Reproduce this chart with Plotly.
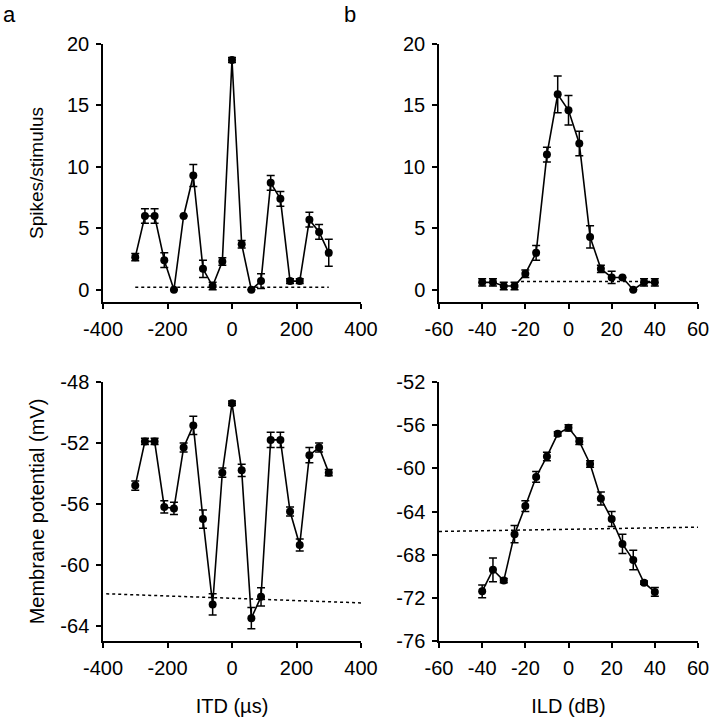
import plotly.graph_objects as go

# ITD tuning (panel a), ILD tuning (panel b)
itd = [-300, -270, -240, -210, -180, -150, -120, -90, -60, -30, 0,
       30, 60, 90, 120, 150, 180, 210, 240, 270, 300]
itd_spikes = [2.65, 6.0, 6.0, 2.4, 0.0, 6.0, 9.3, 1.7, 0.3, 2.3, 18.7,
              3.7, 0.0, 0.7, 8.7, 7.4, 0.7, 0.7, 5.7, 4.7, 3.0]
itd_spikes_err = [0.3, 0.6, 0.6, 0.6, 0.0, 0.0, 0.9, 0.7, 0.3, 0.3, 0.2,
                  0.3, 0.0, 0.6, 0.6, 0.6, 0.2, 0.2, 0.6, 0.6, 1.1]
itd_vm = [-54.8, -51.9, -51.9, -56.2, -56.3, -52.3, -50.85, -57.0, -62.6, -53.95, -49.4,
          -53.8, -63.5, -62.1, -51.8, -51.8, -56.5, -58.7, -52.8, -52.3, -53.95]
itd_vm_err = [0.3, 0.2, 0.2, 0.4, 0.4, 0.3, 0.6, 0.6, 0.7, 0.3, 0.15,
              0.4, 0.7, 0.6, 0.5, 0.5, 0.3, 0.4, 0.5, 0.3, 0.2]

ild = [-40, -35, -30, -25, -20, -15, -10, -5, 0, 5, 10, 15, 20, 25, 30, 35, 40]
ild_spikes = [0.6, 0.6, 0.3, 0.3, 1.3, 3.0, 11.0, 15.9, 14.6, 11.9, 4.3,
              1.7, 1.0, 1.0, 0.0, 0.6, 0.6]
ild_spikes_err = [0.3, 0.3, 0.3, 0.3, 0.3, 0.6, 0.6, 1.5, 1.2, 1.0, 0.9,
                  0.3, 0.5, 0.0, 0.0, 0.3, 0.3]
ild_vm = [-71.4, -69.4, -70.4, -66.1, -63.5, -60.8, -58.9, -56.8, -56.25, -57.5, -59.6,
          -62.8, -64.7, -67.0, -68.5, -70.6, -71.45]
ild_vm_err = [0.6, 1.1, 0.2, 0.8, 0.5, 0.5, 0.4, 0.2, 0.3, 0.3, 0.3,
              0.6, 0.7, 0.9, 0.9, 0.15, 0.4]

# spontaneous / resting levels (dotted lines)
itd_spont_x = [-300, 300]
itd_spont_y = [0.2, 0.2]
ild_spont_x = [-22, 40]
ild_spont_y = [0.67, 0.67]
itd_rest_x = [-390, 400]
itd_rest_y = [-61.9, -62.5]
ild_rest_x = [-60, 60]
ild_rest_y = [-65.85, -65.45]

# tick values (labels use a plain hyphen like the original)
itd_ticks = [-400, -200, 0, 200, 400]
ild_ticks = [-60, -40, -20, 0, 20, 40, 60]
spike_ticks = [0, 5, 10, 15, 20]
vm_itd_ticks = [-64, -60, -56, -52, -48]
vm_ild_ticks = [-76, -72, -68, -64, -60, -56, -52]

FONT = "Liberation Sans, Arial, sans-serif"

fig = go.Figure()


def add_curve(x, y, err, xa, ya):
    fig.add_trace(go.Scatter(
        x=x, y=y, xaxis=xa, yaxis=ya, mode="lines+markers",
        line=dict(color="black", width=1.6),
        marker=dict(color="black", size=8),
        error_y=dict(type="data", array=err, visible=True,
                     color="black", thickness=1.5, width=4),
        showlegend=False))


def add_dotted(x, y, xa, ya):
    fig.add_trace(go.Scatter(
        x=x, y=y, xaxis=xa, yaxis=ya, mode="lines",
        line=dict(color="black", width=1.5, dash="dot"),
        showlegend=False))


def ticks(vals):
    return dict(tickmode="array", tickvals=vals, ticktext=[str(v) for v in vals])


add_dotted(itd_spont_x, itd_spont_y, "x", "y")
add_curve(itd, itd_spikes, itd_spikes_err, "x", "y")
add_dotted(ild_spont_x, ild_spont_y, "x2", "y2")
add_curve(ild, ild_spikes, ild_spikes_err, "x2", "y2")
add_dotted(itd_rest_x, itd_rest_y, "x3", "y3")
add_curve(itd, itd_vm, itd_vm_err, "x3", "y3")
add_dotted(ild_rest_x, ild_rest_y, "x4", "y4")
add_curve(ild, ild_vm, ild_vm_err, "x4", "y4")

left = [103 / 711, 361 / 711]
right = [439 / 711, 698 / 711]
top = [1 - 302 / 720, 1 - 44 / 720]
bottom = [1 - 641 / 720, 1 - 382 / 720]

ax = dict(showline=True, linecolor="black", linewidth=1.5, ticks="outside",
          ticklen=5, tickwidth=1.5, tickcolor="black", showgrid=False,
          zeroline=False, automargin=False, ticklabelstandoff=3,
          tickfont=dict(size=20, color="black", family=FONT))

fig.update_layout(
    width=711, height=720, margin=dict(l=0, r=0, t=0, b=0),
    paper_bgcolor="white", plot_bgcolor="white",
    font=dict(family=FONT, color="black"),
    xaxis=dict(ax, **ticks(itd_ticks), domain=left, anchor="y", range=[-400, 400]),
    yaxis=dict(ax, **ticks(spike_ticks), domain=top, anchor="x", range=[-1, 20],
               title=dict(text="Spikes/stimulus", font=dict(size=19), standoff=18)),
    xaxis2=dict(ax, **ticks(ild_ticks), domain=right, anchor="y2", range=[-60, 60]),
    yaxis2=dict(ax, **ticks(spike_ticks), domain=top, anchor="x2", range=[-1, 20]),
    xaxis3=dict(ax, **ticks(itd_ticks), domain=left, anchor="y3", range=[-400, 400],
                title=dict(text="ITD (µs)", font=dict(size=20), standoff=21)),
    yaxis3=dict(ax, **ticks(vm_itd_ticks), domain=bottom, anchor="x3", range=[-65, -48],
                title=dict(text="Membrane potential (mV)", font=dict(size=20), standoff=10)),
    xaxis4=dict(ax, **ticks(ild_ticks), domain=right, anchor="y4", range=[-60, 60],
                title=dict(text="ILD (dB)", font=dict(size=20), standoff=21)),
    yaxis4=dict(ax, **ticks(vm_ild_ticks), domain=bottom, anchor="x4", range=[-76, -52]),
    annotations=[
        dict(text="a", x=9 / 711, y=1, xref="paper", yref="paper",
             showarrow=False, font=dict(size=22), xanchor="center", yanchor="top"),
        dict(text="b", x=350 / 711, y=1, xref="paper", yref="paper",
             showarrow=False, font=dict(size=22), xanchor="center", yanchor="top"),
    ],
)

# browser default body margin would shift the whole figure by 8px
fig.write_html("out.html", config={"displayModeBar": False},
               post_script="document.body.style.margin = '0';")
